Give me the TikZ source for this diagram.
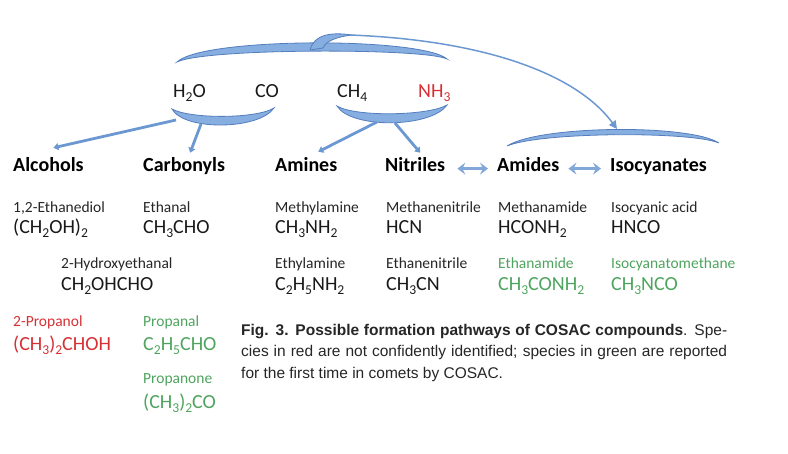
\documentclass[tikz,border=0pt]{standalone}
\usepackage{fontspec}
\setmainfont{Carlito}
\newfontfamily\capfont{Liberation Sans}
\usetikzlibrary{arrows.meta}
\definecolor{bandblue}{RGB}{134,174,224}
\definecolor{bandedge}{RGB}{84,126,190}
\definecolor{arrblue}{RGB}{108,152,210}
\definecolor{spred}{RGB}{214,48,52}
\definecolor{spgreen}{RGB}{78,164,94}
\newcommand{\sbs}[1]{\raisebox{-0.22em}{\scalebox{0.68}{#1}}}

\begin{document}
\begin{tikzpicture}[x=1pt,y=-1pt,
  lbl/.style={anchor=base west,inner sep=0pt},
  heading/.style={lbl,font=\fontsize{20}{24}\selectfont\bfseries},
  spname/.style={lbl,font=\fontsize{15.5}{18}\selectfont,text=black!85},
  formula/.style={lbl,font=\fontsize{20}{24}\selectfont,text=black!90},
  band/.style={fill=bandblue,draw=bandedge,line width=0.8pt},
  flow/.style={draw=arrblue,line width=2.8pt,-{Triangle[length=5pt,width=7pt]}},
  pair/.style={draw=arrblue!85,line width=2.4pt,{Stealth[length=8pt,width=12pt,inset=3pt]}-{Stealth[length=8pt,width=12pt,inset=3pt]}}]
\useasboundingbox (0,0) rectangle (788,453);

\node[formula] (h2o) at (173,97) {H\sbs{2}O};
\node[formula] (co) at (255,97) {CO};
\node[formula] (ch4) at (337,97) {CH\sbs{4}};
\node[formula,text=spred] (nh3) at (418,97) {NH\sbs{3}};

\path[band] (177,62) .. controls (203,37) and (422,37) .. (447,59) .. controls (425,48) and (205,48) .. cycle;
\path[band] (310,50) .. controls (314,34) and (332,32) .. (352,35) .. controls (336,37) and (326,41) .. (323,48) -- cycle;
\path[band] (172,109) .. controls (184,131) and (259,130) .. (274,108) .. controls (256,119) and (190,119) .. cycle;
\path[band] (337,106) .. controls (351,129) and (431,128) .. (447,105) .. controls (428,116) and (355,117) .. cycle;
\path[band] (507,146) .. controls (540,125) and (690,124) .. (719,143) .. controls (690,131) and (540,132) .. cycle;

\coordinate (hook) at (350,35);
\coordinate (isotop) at (617,129);
\coordinate (hwa) at (176,120);
\coordinate (hwb) at (201,124);
\coordinate (mna) at (377,122);
\coordinate (mnb) at (395,123);

\node[heading] (alc) at (13,171) {Alcohols};
\node[heading] (carb) at (143,171) {Carbonyls};
\node[heading] (amin) at (275,171) {Amines};
\node[heading] (nitr) at (385,171) {Nitriles};
\node[heading] (amid) at (497,171) {Amides};
\node[heading] (isoc) at (610,171) {Isocyanates};

\draw[draw=arrblue,line width=1.5pt,-{Triangle[length=8pt,width=8pt]}] (hook) .. controls (480,40) and (575,72) .. (isotop);
\draw[flow] (hwa) -- ([shift={(5,-9)}]alc.north);
\draw[flow] (hwb) -- ([shift={(6,-4)}]carb.north);
\draw[flow] (mna) -- ([shift={(12,-5)}]amin.north);
\draw[flow] (mnb) -- ([shift={(5,-4)}]nitr.north);
\draw[pair,shorten <=12pt,shorten >=9pt] (nitr.mid east) -- (amid.mid west);
\draw[pair,shorten <=9pt,shorten >=9pt] (amid.mid east) -- (isoc.mid west);

\node[spname] (ethdiol) at (13,212) {1,2-Ethanediol};
\node[formula] (ethdiolf) at (13,233) {(CH\sbs{2}OH)\sbs{2}};
\node[spname] (ethal) at (143,212) {Ethanal};
\node[formula] (ethalf) at (143,233) {CH\sbs{3}CHO};
\node[spname] (hydro) at (61,268) {2-Hydroxyethanal};
\node[formula] (hydrof) at (61,290) {CH\sbs{2}OHCHO};
\node[spname,text=spred] (prol) at (13,326) {2-Propanol};
\node[formula,text=spred] (prolf) at (13,350) {(CH\sbs{3})\sbs{2}CHOH};
\node[spname,text=spgreen] (pral) at (143,326) {Propanal};
\node[formula,text=spgreen] (pralf) at (143,350) {C\sbs{2}H\sbs{5}CHO};
\node[spname,text=spgreen] (pron) at (143,383) {Propanone};
\node[formula,text=spgreen] (pronf) at (143,408) {(CH\sbs{3})\sbs{2}CO};

\node[spname] (mam) at (275,212) {Methylamine};
\node[formula] (mamf) at (275,233) {CH\sbs{3}NH\sbs{2}};
\node[spname] (eam) at (275,268) {Ethylamine};
\node[formula] (eamf) at (275,290) {C\sbs{2}H\sbs{5}NH\sbs{2}};
\node[spname] (mnit) at (386,212) {Methanenitrile};
\node[formula] (mnitf) at (386,233) {HCN};
\node[spname] (enit) at (386,268) {Ethanenitrile};
\node[formula] (enitf) at (386,290) {CH\sbs{3}CN};
\node[spname] (mamd) at (498,212) {Methanamide};
\node[formula] (mamdf) at (498,233) {HCONH\sbs{2}};
\node[spname,text=spgreen] (eamd) at (498,268) {Ethanamide};
\node[formula,text=spgreen] (eamdf) at (498,290) {CH\sbs{3}CONH\sbs{2}};
\node[spname] (hnco) at (611,212) {Isocyanic acid};
\node[formula] (hncof) at (611,233) {HNCO};
\node[spname,text=spgreen] (mnco) at (611,268) {Isocyanatomethane};
\node[formula,text=spgreen] (mncof) at (611,290) {CH\sbs{3}NCO};

\node[lbl,text width=486pt,align=justify,text=black!85,font=\capfont\fontsize{15.5}{21.7}\selectfont] (cap) at (241,335)
  {\textbf{Fig. 3. Possible formation pathways of COSAC compounds}. Spe-\linebreak cies in red are not confidently identified; species in green are reported\linebreak for the first time in comets by COSAC.};
\end{tikzpicture}
\end{document}
